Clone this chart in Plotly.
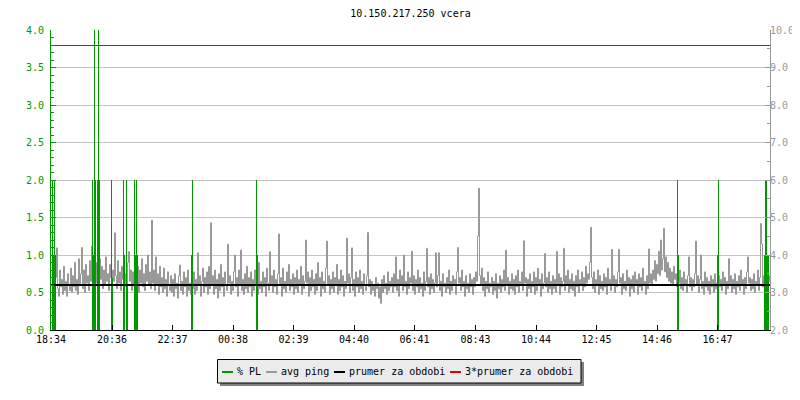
import plotly.graph_objects as go

# ---------------- data ----------------
title_text = "10.150.217.250 vcera"
tick_minutes = [0, 122, 243, 364, 485, 606, 727, 849, 970, 1091, 1212, 1333]
tick_labels = ["18:34", "20:36", "22:37", "00:38", "02:39", "04:40",
               "06:41", "08:43", "10:44", "12:45", "14:46", "16:47"]
x_range = [0, 1438]

# avg ping (right axis), one sample every 2 minutes starting 18:35
avg_ping = [
    3.25, 2.95, 3.55, 3.05, 3.40, 4.19, 3.10, 2.90, 3.60, 3.15, 3.35, 2.95, 3.70, 3.05, 3.30, 2.90, 3.50, 3.20, 3.05, 3.65,
    3.00, 3.45, 3.15, 3.80, 3.05, 3.35, 2.95, 3.90, 3.20, 3.50, 4.20, 3.10, 3.60, 3.00, 3.75, 3.25, 3.45, 3.05, 3.85, 3.30,
    4.24, 3.15, 3.65, 3.05, 3.80, 3.25, 3.55, 3.00, 3.90, 3.35, 3.70, 3.10, 3.60, 3.20, 3.95, 3.30, 3.50, 3.05, 3.75, 3.40,
    3.15, 3.60, 3.30, 4.59, 3.45, 3.10, 3.85, 3.25, 3.55, 3.05, 3.70, 3.35, 3.95, 3.15, 3.50, 3.20, 3.80, 4.09, 3.30, 3.60,
    3.05, 3.55, 3.20, 3.85, 3.10, 3.45, 3.70, 3.00, 3.60, 3.25, 3.90, 3.15, 3.50, 3.05, 3.75, 3.30, 4.00, 3.20, 3.55, 3.10,
    4.93, 3.25, 3.60, 3.05, 3.95, 3.20, 3.50, 2.95, 3.70, 3.15, 3.40, 3.00, 3.65, 3.10, 3.35, 2.90, 3.55, 3.20, 3.05, 3.45,
    3.00, 3.35, 2.90, 3.50, 3.10, 3.25, 2.85, 3.45, 3.73, 3.05, 3.30, 2.95, 3.55, 3.15, 3.40, 2.90, 3.60, 3.05, 3.25, 2.95,
    3.40, 3.10, 3.55, 2.95, 3.35, 3.05, 4.06, 3.20, 3.45, 2.90, 3.30, 3.65, 3.00, 3.40, 3.15, 3.55, 2.95, 3.70, 3.10, 4.86,
    3.20, 3.45, 2.95, 3.60, 3.10, 3.35, 2.85, 3.50, 3.05, 3.75, 3.15, 3.40, 2.90, 3.55, 3.20, 3.05, 4.29, 3.25, 3.45, 2.95,
    3.30, 3.05, 3.55, 4.00, 3.15, 3.40, 2.90, 3.60, 3.20, 4.13, 3.05, 3.35, 2.95, 3.50, 3.10, 3.70, 3.00, 3.40, 3.15, 3.55,
    2.90, 3.35, 3.05, 3.60, 3.20, 3.45, 2.95, 3.80, 3.10, 3.30, 3.00, 3.55, 3.15, 3.40, 2.90, 3.65, 3.25, 3.05, 4.09, 3.20,
    3.45, 3.00, 3.60, 3.15, 3.35, 2.95, 3.50, 4.56, 3.20, 3.40, 2.90, 3.65, 3.10, 3.30, 3.00, 3.55, 3.20, 3.75, 3.05, 3.35,
    3.15, 3.50, 2.95, 3.40, 3.10, 3.60, 3.00, 3.35, 3.20, 3.70, 2.95, 3.45, 3.10, 3.30, 4.40, 3.25, 3.55, 2.90, 3.40, 3.05,
    3.60, 3.15, 3.35, 2.95, 3.50, 3.05, 3.80, 3.20, 3.40, 2.90, 3.55, 3.10, 3.30, 3.00, 3.65, 4.37, 3.20, 3.45, 2.95, 3.35,
    3.10, 3.55, 3.00, 3.40, 3.20, 3.75, 2.95, 3.35, 3.05, 3.60, 3.15, 3.45, 2.90, 3.30, 3.10, 4.45, 3.25, 3.50, 3.00, 3.40,
    4.19, 3.05, 3.35, 2.90, 3.55, 3.15, 3.40, 3.00, 3.60, 3.10, 3.30, 2.95, 3.50, 3.20, 3.05, 3.45, 4.60, 3.15, 3.35, 2.95,
    3.30, 3.05, 3.20, 2.90, 3.40, 3.10, 3.25, 2.85, 3.15, 2.71, 3.35, 3.00, 3.45, 3.10, 3.25, 2.95, 3.55, 3.05, 3.30, 3.15,
    3.40, 3.00, 3.50, 3.15, 3.95, 3.05, 3.35, 2.90, 3.60, 3.20, 3.45, 3.05, 4.00, 3.15, 3.30, 2.95, 3.55, 3.10, 3.40, 3.25,
    4.10, 3.05, 3.45, 2.95, 3.35, 3.15, 3.60, 3.00, 3.40, 3.10, 3.25, 2.90, 3.55, 3.05, 3.30, 4.18, 3.15, 3.40, 2.95, 3.50,
    3.10, 3.35, 3.00, 3.25, 4.06, 3.15, 3.45, 4.06, 3.05, 3.30, 2.90, 3.50, 3.15, 3.25, 3.00, 3.40, 3.10, 3.60, 2.95, 3.30,
    3.05, 3.45, 3.20, 3.35, 2.95, 3.55, 4.20, 3.25, 3.40, 3.05, 3.60, 3.15, 3.30, 2.90, 3.45, 3.10, 3.25, 3.00, 3.50, 3.15,
    3.35, 2.95, 3.40, 3.15, 3.55, 3.30, 4.50, 5.78, 3.45, 3.20, 3.65, 3.05, 3.40, 2.90, 3.30, 3.10, 3.55, 3.00, 3.25, 3.15,
    3.40, 2.95, 3.30, 3.05, 3.50, 2.85, 3.25, 3.10, 3.45, 3.00, 3.35, 3.15, 3.60, 3.05, 4.13, 3.20, 3.40, 2.95, 3.30, 3.10,
    3.50, 3.05, 3.35, 2.95, 3.45, 3.15, 3.60, 3.00, 3.30, 3.20, 3.55, 3.05, 4.38, 3.25, 3.40, 2.90, 3.35, 3.10, 3.50, 3.00,
    3.30, 3.15, 3.55, 2.95, 3.40, 3.05, 3.65, 3.20, 3.35, 2.90, 3.50, 3.10, 3.25, 4.04, 3.15, 3.40, 3.00, 3.55, 3.10, 3.30,
    2.95, 3.45, 3.10, 3.35, 3.00, 4.10, 3.20, 3.50, 2.95, 3.40, 3.15, 3.30, 4.18, 3.05, 3.45, 3.20, 3.60, 3.00, 3.35, 3.10,
    3.50, 3.05, 3.30, 2.90, 3.45, 3.15, 3.60, 3.00, 3.35, 3.20, 3.55, 3.05, 3.40, 3.15, 3.70, 3.25, 3.50, 3.35, 3.80, 4.74,
    3.40, 3.10, 3.55, 3.00, 3.35, 3.20, 3.60, 2.95, 3.45, 3.10, 3.30, 3.05, 3.50, 3.15, 3.40, 2.95, 3.65, 3.20, 3.35, 3.05,
    4.15, 3.20, 3.45, 3.00, 3.35, 3.15, 3.55, 4.15, 3.25, 3.40, 2.95, 3.50, 3.10, 3.30, 3.05, 3.60, 3.20, 3.40, 2.90, 3.35,
    3.10, 3.45, 3.00, 3.55, 3.20, 3.35, 2.95, 3.50, 3.15, 3.40, 3.05, 3.65, 3.20, 3.30, 2.95, 3.45, 3.10, 4.16, 3.25, 3.50,
    3.20, 3.60, 3.35, 3.85, 3.30, 3.75, 3.50, 4.10, 3.45, 4.40, 3.60, 3.90, 4.71, 3.55, 3.95, 3.40, 3.80, 3.30, 3.65, 3.25,
    3.55, 3.20, 3.70, 3.35, 3.50, 3.15, 3.45, 3.25, 3.60, 3.10, 3.40, 3.05, 3.55, 3.20, 3.35, 3.00, 3.45, 3.95, 3.15, 3.40,
    3.05, 3.35, 3.15, 3.50, 4.37, 3.20, 3.45, 3.00, 3.35, 4.00, 3.10, 3.30, 2.95, 3.55, 3.15, 3.40, 3.05, 3.30, 2.95, 3.45,
    3.15, 3.35, 3.00, 3.50, 3.10, 3.25, 2.90, 3.45, 3.15, 3.35, 3.05, 3.55, 3.20, 3.40, 2.95, 3.30, 3.10, 3.90, 3.20, 3.45,
    3.00, 3.35, 3.10, 3.50, 2.95, 3.30, 3.15, 3.45, 3.05, 3.60, 3.20, 3.35, 2.95, 3.40, 3.10, 3.55, 3.95, 3.25, 3.40, 3.05,
    3.35, 3.10, 3.50, 3.00, 3.30, 3.20, 3.60, 3.05, 3.40, 4.84, 4.30, 3.15, 3.45, 3.05, 3.55, 3.20, 3.60, 3.30, 3.45, 3.20,
]
ping_minutes = list(range(1, 2 * len(avg_ping) + 1, 2))

# packet loss (left axis), non-zero samples only (minute offset, %)
pl_minutes = [3, 5, 7, 9,
              83, 85, 87, 89, 93, 95, 97,
              121, 123,
              145, 147, 151, 153,
              167, 169, 171, 173,
              281, 283,
              411, 413,
              1253, 1255,
              1333, 1335,
              1427, 1429, 1431, 1433, 1435]
pl_values = [2.0, 1.0, 2.0, 1.0,
             2.0, 1.0, 4.0, 2.0, 2.0, 4.0, 2.0,
             2.0, 0.7,
             2.0, 1.0, 2.0, 0.6,
             2.0, 1.0, 2.0, 1.0,
             1.0, 2.0,
             2.0, 1.0,
             2.0, 1.0,
             1.0, 2.0,
             1.0, 2.0, 2.0, 1.0, 1.0]

prumer = 3.2          # prumer za obdobi (right axis)
prumer3 = 9.6         # 3*prumer za obdobi (right axis)

legend_names = ["% PL", "avg ping", "prumer za obdobi", "3*prumer za obdobi"]

# ---------------- styling ----------------
GREEN = "#009900"
GRAY = "#999999"
RED = "#e00000"
GRID = "#c4c4c4"
FONT = "DejaVu Sans Mono"

# page has an 8px body margin: figure is placed at (8, 8)
OFF = 8
PAGE_W, PAGE_H = 800, 400
W, H = PAGE_W - OFF, PAGE_H - OFF
# plot area in page pixels
L, R, T, B = 51, 770, 30, 330
RIGHT_RANGE = [2, 10]
# half-pixel shift so the 1px red rule lands on a whole pixel row
HALF_PX = 0.5 * (RIGHT_RANGE[1] - RIGHT_RANGE[0]) / (B - T)

fig = go.Figure()

fig.add_trace(go.Scatter(x=ping_minutes, y=avg_ping, yaxis="y", mode="lines",
                         line=dict(color=GRAY, width=1, shape="hv"), name=legend_names[1],
                         showlegend=False, hoverinfo="skip"))
fig.add_trace(go.Bar(x=pl_minutes, y=pl_values, yaxis="y2", width=2,
                     marker=dict(color=GREEN, line=dict(width=0)),
                     name=legend_names[0], showlegend=False, hoverinfo="skip"))
fig.add_trace(go.Scatter(x=x_range, y=[prumer, prumer], yaxis="y3", mode="lines",
                         line=dict(color="black", width=2), name=legend_names[2],
                         showlegend=False, hoverinfo="skip"))
fig.add_trace(go.Scatter(x=x_range, y=[prumer3, prumer3], yaxis="y4", mode="lines",
                         line=dict(color=RED, width=1), name=legend_names[3],
                         showlegend=False, hoverinfo="skip"))


def fx(px):
    return (px - L) / (R - L)


def fy(py):
    return (B - py) / (B - T)


shapes = []
# legend shadow + box
shapes.append(dict(type="rect", xref="paper", yref="paper",
                   x0=fx(220), x1=fx(584), y0=fy(386), y1=fy(362),
                   fillcolor="#808080", line=dict(width=0), layer="above"))
shapes.append(dict(type="rect", xref="paper", yref="paper",
                   x0=fx(217.5), x1=fx(581), y0=fy(383), y1=fy(359.5),
                   fillcolor="#ebebeb", line=dict(color="black", width=1), layer="above"))

legend_colors = [GREEN, GRAY, "black", RED]
legend_line_x = [222, 266, 334, 450]
legend_text_x = [236, 279.5, 347.5, 463.5]
annotations = []
for name, col, lx, tx in zip(legend_names, legend_colors, legend_line_x, legend_text_x):
    shapes.append(dict(type="line", xref="paper", yref="paper",
                       x0=fx(lx), x1=fx(lx + 11), y0=fy(372), y1=fy(372),
                       line=dict(color=col, width=2), layer="above"))
    annotations.append(dict(text=name, xref="paper", yref="paper",
                            x=fx(tx), y=fy(371), xanchor="left", yanchor="middle",
                            showarrow=False, font=dict(family=FONT, size=10, color="black"),
                            borderpad=0))

fig.update_layout(
    width=W, height=H,
    margin=dict(l=L - OFF, r=PAGE_W - R, t=T - OFF, b=PAGE_H - B, pad=0, autoexpand=False),
    paper_bgcolor="white", plot_bgcolor="white",
    showlegend=False,
    title=dict(text=title_text, x=0.5, xref="paper", y=1 - (13 - OFF) / H, yref="container",
               xanchor="center", yanchor="middle",
               font=dict(family=FONT, size=10, color="black")),
    font=dict(family=FONT, size=10, color="black"),
    bargap=0,
    xaxis=dict(range=x_range, tickvals=tick_minutes, ticktext=tick_labels,
               ticks="inside", ticklen=5, tickcolor="black", showgrid=False,
               showline=True, linecolor="black", linewidth=1, zeroline=False,
               tickfont=dict(family=FONT, size=10, color="black")),
    yaxis=dict(range=RIGHT_RANGE, side="right", dtick=1, tick0=0, tickformat=".1f",
               ticks="inside", ticklen=5, tickcolor=GRAY,
               showline=True, linecolor=GRAY, linewidth=1,
               showgrid=True, gridcolor=GRID, gridwidth=1, zeroline=False,
               ticklabelstandoff=-3,
               tickfont=dict(family=FONT, size=10, color=GRAY),
               minor=dict(dtick=0.5, ticks="inside", ticklen=3, tickcolor=GRAY, showgrid=False)),
    yaxis2=dict(range=[0, 4], side="left", overlaying="y", dtick=0.5, tick0=0,
                tickformat=".1f", ticks="inside", ticklen=5, tickcolor=GREEN,
                showline=True, linecolor=GREEN, linewidth=1,
                showgrid=False, zeroline=False,
                ticklabelstandoff=4,
                tickfont=dict(family=FONT, size=10, color=GREEN),
                minor=dict(dtick=0.1, ticks="inside", ticklen=3, tickcolor=GREEN, showgrid=False)),
    yaxis3=dict(range=RIGHT_RANGE, overlaying="y", visible=False),
    yaxis4=dict(range=[RIGHT_RANGE[0] + HALF_PX, RIGHT_RANGE[1] + HALF_PX],
                overlaying="y", visible=False),
    shapes=shapes,
    annotations=annotations,
)

fig.write_html("out.html")
